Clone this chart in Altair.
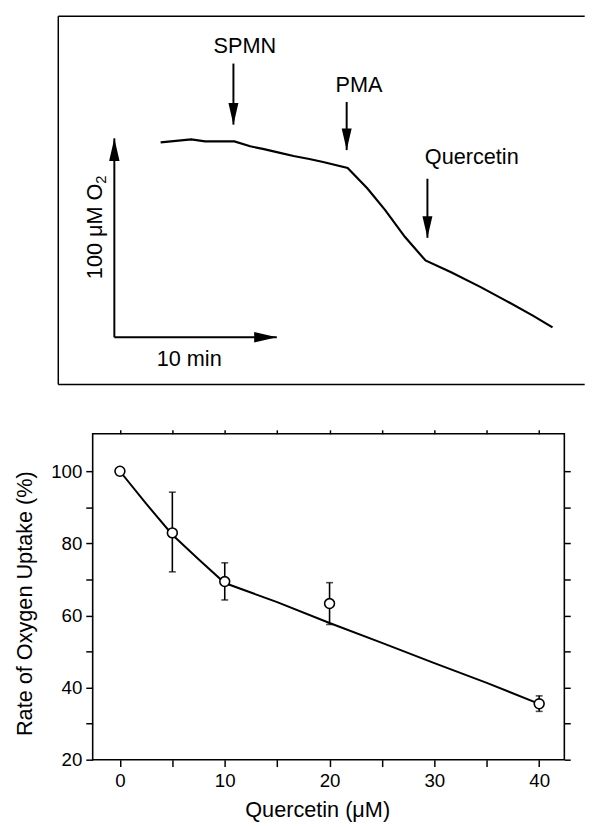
import altair as alt
import pandas as pd

FONT = "Liberation Sans"

# ---------------- top panel: oxygen trace (min, µM O2 relative to scale-bar origin) ----------------
trace_time = [2.85, 4.73, 5.58, 7.39, 8.36, 9.21, 10.0, 11.03, 12.0, 12.85, 14.36,
              15.58, 16.67, 17.88, 19.15, 20.73, 22.55, 24.12, 25.76, 26.97]
trace_o2 = [98.0, 99.5, 98.5, 98.5, 96.0, 94.6, 93.1, 91.1, 89.6, 88.1, 85.1,
            74.8, 63.9, 50.5, 38.6, 32.7, 25.2, 18.3, 10.9, 5.0]

event_names = ["SPMN", "PMA", "Quercetin"]
event_time = [7.33, 14.30, 19.27]
event_arrow_top = [137.6, 118.3, 79.7]
event_arrow_tip = [106.9, 94.1, 50.0]
event_label_time = [8.03, 15.06, 22.0]
event_label_o2 = [143.1, 123.3, 87.1]

scale_bar_time = [0, 10]     # 10 min
scale_bar_o2 = [0, 100]      # 100 µM O2
time_bar_label = "10 min"
o2_bar_label = "100 μM O"
o2_bar_sub = "2"

frame_time = [-3.45, 28.95]
frame_o2 = [-23.76, 161.39]
view_time = [-1.333, 27.697]

# ---------------- bottom panel: rate of O2 uptake vs quercetin ----------------
quercetin = [0, 5, 10, 20, 40]
uptake = [100, 82.9, 69.4, 63.3, 35.5]
uptake_lo = [100, 72.1, 64.3, 57.5, 33.4]
uptake_hi = [100, 94.2, 74.6, 69.1, 37.7]
fit_x = [0, 2.5, 5, 7.5, 10, 15, 20, 25, 30, 35, 40]
fit_y = [100, 91.0, 82.4, 75.6, 69.0, 63.7, 57.9, 52.4, 46.8, 41.3, 35.5]
x_ticks = [0, 5, 10, 15, 20, 25, 30, 35, 40]
y_ticks = [20, 30, 40, 50, 60, 70, 80, 90, 100]

# ---------------- build top panel ----------------
tx = alt.Scale(domain=view_time, nice=False, zero=False)
ty = alt.Scale(domain=frame_o2, nice=False, zero=False)

trace_df = pd.DataFrame({"i": range(len(trace_time)), "t": trace_time, "o2": trace_o2})
frame_df = pd.DataFrame({"t0": [frame_time[0]], "t1": [frame_time[1]],
                         "o0": [frame_o2[0]], "o1": [frame_o2[1]]})
ev_df = pd.DataFrame({"name": event_names, "t": event_time, "top": event_arrow_top,
                      "tip": event_arrow_tip, "lt": event_label_time, "lo": event_label_o2})
bar_df = pd.DataFrame({"t0": [scale_bar_time[0]], "t1": [scale_bar_time[1]],
                       "o0": [scale_bar_o2[0]], "o1": [scale_bar_o2[1]]})

DOWN = "M-0.23,-1L0.23,-1L0,0Z"
UP = "M-0.23,1L0.23,1L0,0Z"
RIGHT = "M-1,-0.23L-1,0.23L0,0Z"

base_f = alt.Chart(frame_df)
frame_top = base_f.mark_rule(color="black", strokeWidth=1.5).encode(
    x=alt.X("t0:Q", scale=tx, axis=None), x2="t1:Q", y=alt.Y("o1:Q", scale=ty, axis=None))
frame_left = base_f.mark_rule(color="black", strokeWidth=1.5).encode(
    x=alt.X("t0:Q", scale=tx, axis=None), y=alt.Y("o0:Q", scale=ty, axis=None), y2="o1:Q")
frame_bot = base_f.mark_rule(color="black", strokeWidth=1.5).encode(
    x=alt.X("t0:Q", scale=tx, axis=None), x2="t1:Q", y=alt.Y("o0:Q", scale=ty, axis=None))

trace = alt.Chart(trace_df).mark_line(color="black", strokeWidth=2.2).encode(
    x=alt.X("t:Q", scale=tx, axis=None), y=alt.Y("o2:Q", scale=ty, axis=None), order="i:Q")

ev = alt.Chart(ev_df)
ev_lines = ev.mark_rule(color="black", strokeWidth=2).encode(
    x=alt.X("t:Q", scale=tx, axis=None), y=alt.Y("top:Q", scale=ty, axis=None), y2="tip:Q")
ev_heads = ev.mark_point(shape=DOWN, filled=True, size=1936, color="black", opacity=1).encode(
    x=alt.X("t:Q", scale=tx, axis=None), y=alt.Y("tip:Q", scale=ty, axis=None))
ev_text = ev.mark_text(font=FONT, fontSize=22, align="center", baseline="alphabetic",
                       color="black").encode(
    x=alt.X("lt:Q", scale=tx, axis=None), y=alt.Y("lo:Q", scale=ty, axis=None), text="name:N")

bb = alt.Chart(bar_df)
bar_v = bb.mark_rule(color="black", strokeWidth=2).encode(
    x=alt.X("t0:Q", scale=tx, axis=None), y=alt.Y("o0:Q", scale=ty, axis=None), y2="o1:Q")
bar_h = bb.mark_rule(color="black", strokeWidth=2).encode(
    x=alt.X("t0:Q", scale=tx, axis=None), x2="t1:Q", y=alt.Y("o0:Q", scale=ty, axis=None))
bar_up = bb.mark_point(shape=UP, filled=True, size=2116, color="black", opacity=1).encode(
    x=alt.X("t0:Q", scale=tx, axis=None), y=alt.Y("o1:Q", scale=ty, axis=None))
bar_right = bb.mark_point(shape=RIGHT, filled=True, size=2116, color="black", opacity=1).encode(
    x=alt.X("t1:Q", scale=tx, axis=None), y=alt.Y("o0:Q", scale=ty, axis=None))
bar_tlab = bb.mark_text(text=time_bar_label, font=FONT, fontSize=22, align="center",
                        baseline="alphabetic", dx=-89, dy=29, color="black").encode(
    x=alt.X("t1:Q", scale=tx, axis=None), y=alt.Y("o0:Q", scale=ty, axis=None))
bar_olab = bb.mark_text(text=o2_bar_label, font=FONT, fontSize=22, align="left",
                        baseline="alphabetic", angle=270, dx=-143, dy=-13, color="black").encode(
    x=alt.X("t0:Q", scale=tx, axis=None), y=alt.Y("o1:Q", scale=ty, axis=None))
bar_osub = bb.mark_text(text=o2_bar_sub, font=FONT, fontSize=15, align="left",
                        baseline="alphabetic", angle=270, dx=-46, dy=-8, color="black").encode(
    x=alt.X("t0:Q", scale=tx, axis=None), y=alt.Y("o1:Q", scale=ty, axis=None))

top = alt.layer(frame_top, frame_left, frame_bot, bar_v, bar_h, bar_up, bar_right,
                bar_tlab, bar_olab, bar_osub, trace, ev_lines, ev_heads, ev_text).properties(
    width=479, height=374, view=alt.ViewBackground(stroke=None))

# ---------------- build bottom panel ----------------
sx = alt.Scale(domain=[-2.6, 42.4], nice=False, zero=False)
sy = alt.Scale(domain=[20, 110.4], nice=False, zero=False)

pts_df = pd.DataFrame({"q": quercetin, "r": uptake, "lo": uptake_lo, "hi": uptake_hi})
fit_df = pd.DataFrame({"q": fit_x, "r": fit_y})
caps_df = pd.DataFrame({"q": quercetin * 2, "v": uptake_lo + uptake_hi})

ax_common = dict(tickColor="black", domain=False, grid=False, tickWidth=1.5,
                 labelFont=FONT, labelFontSize=19, labelColor="black",
                 titleFont=FONT, titleFontSize=22, titleFontWeight="normal", titleColor="black")

x_bottom = alt.Axis(orient="bottom", values=x_ticks, tickSize=7, labelPadding=5,
                    labelExpr="datum.value % 10 == 0 ? datum.label : ''",
                    title="Quercetin (μM)", titleX=228, titleY=58, titleBaseline="alphabetic",
                    titleAlign="center", **ax_common)
y_left = alt.Axis(orient="left", values=y_ticks, tickSize=7, labelPadding=4,
                  labelExpr="datum.value % 20 == 0 ? datum.label : ''",
                  title="Rate of Oxygen Uptake (%)", titleX=-62, titleY=172,
                  titleAngle=270, titleBaseline="alphabetic", titleAlign="center", **ax_common)
x_top = alt.Axis(orient="top", values=x_ticks, tickSize=4, labels=False, title=None, **ax_common)
y_right = alt.Axis(orient="right", values=y_ticks, tickSize=6, labels=False, title=None, **ax_common)

fit = alt.Chart(fit_df).mark_line(color="black", strokeWidth=2).encode(
    x=alt.X("q:Q", scale=sx, axis=x_bottom), y=alt.Y("r:Q", scale=sy, axis=y_left))
err = alt.Chart(pts_df).mark_rule(color="black", strokeWidth=1.6).encode(
    x=alt.X("q:Q", scale=sx, axis=None), y=alt.Y("lo:Q", scale=sy, axis=None), y2="hi:Q")
caps = alt.Chart(caps_df).mark_tick(color="black", orient="horizontal", size=7,
                                   thickness=1.6).encode(
    x=alt.X("q:Q", scale=sx, axis=None), y=alt.Y("v:Q", scale=sy, axis=None))
pts = alt.Chart(pts_df).mark_point(shape="circle", size=100, filled=False, fill="white",
                                   fillOpacity=1, stroke="black", strokeWidth=1.6,
                                   opacity=1).encode(
    x=alt.X("q:Q", scale=sx, axis=x_top), y=alt.Y("r:Q", scale=sy, axis=y_right))

bottom = alt.layer(fit, err, caps, pts).properties(
    width=479, height=331,
    view=alt.ViewBackground(stroke="black", strokeWidth=1.6))

chart = alt.vconcat(top, bottom, spacing=43).properties(
    padding={"left": 5, "top": 1, "right": 0, "bottom": 0}
).configure(font=FONT).configure_view(stroke=None)

chart.save("out.html", embed_options={"renderer": "svg", "actions": False})
